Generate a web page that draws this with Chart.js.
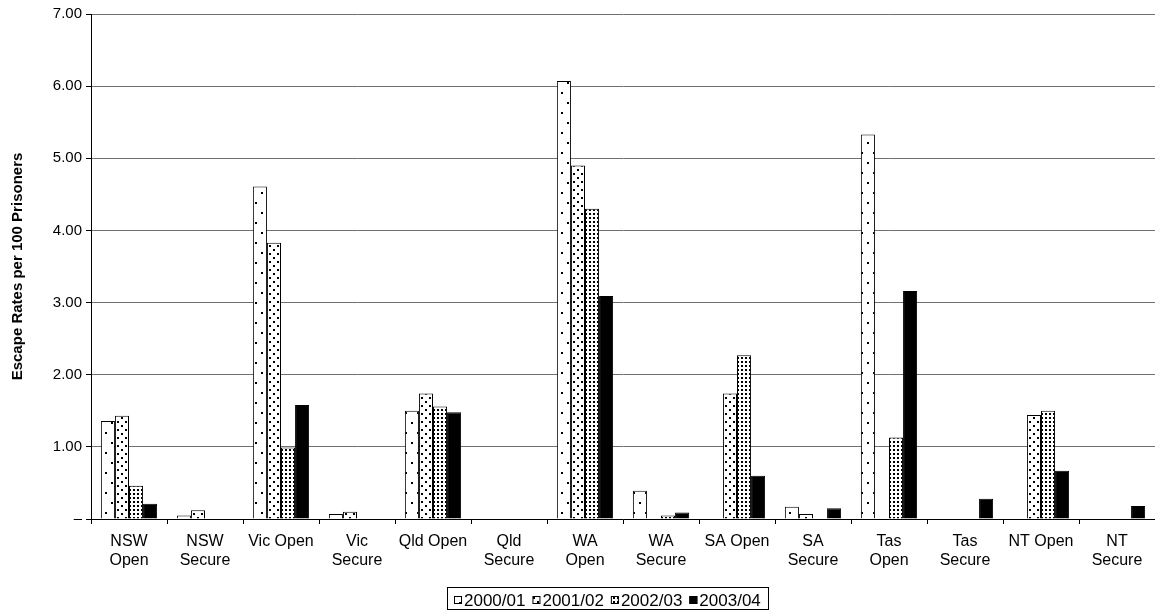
<!DOCTYPE html>
<html>
<head>
<meta charset="utf-8">
<script src="https://cdn.jsdelivr.net/npm/chart.js@4.4.0/dist/chart.umd.min.js"></script>
<style>
html, body { margin: 0; padding: 0; background: #fff; }
</style>
</head>
<body>
<canvas id="myChart" width="1155" height="610"></canvas>
<script>
var categories = [['NSW', 'Open'], ['NSW', 'Secure'], 'Vic Open', ['Vic', 'Secure'], 'Qld Open', ['Qld', 'Secure'],
    ['WA', 'Open'], ['WA', 'Secure'], 'SA Open', ['SA', 'Secure'], ['Tas', 'Open'], ['Tas', 'Secure'], 'NT Open', ['NT', 'Secure']]
var years = ['2000/01', '2001/02', '2002/03', '2003/04']

// escape rates per 100 prisoners, null = no bar
var rates0001 = [1.36, 0.05, 4.61, 0.07, 1.50, null, 6.07, 0.39, null, 0.17, 5.33, null, null, null]
var rates0102 = [1.43, 0.12, 3.83, 0.10, 1.74, null, 4.90, null, 1.74, 0.07, null, null, 1.44, null]
var rates0203 = [0.46, null, 0.99, null, 1.56, null, 4.30, 0.05, 2.27, null, 1.13, null, 1.50, null]
var rates0304 = [0.21, null, 1.58, null, 1.48, null, 3.09, 0.09, 0.60, 0.15, 3.16, 0.28, 0.67, 0.18]

var yMin = 0
var yMax = 7
var yStep = 1

var fontFamily = '"Liberation Sans", Arial, sans-serif'
Chart.defaults.font.family = fontFamily
Chart.defaults.color = '#000'

var ctx = document.getElementById('myChart').getContext('2d')

// dotted fills like the old excel patterns
function dotPattern(w, h, dots, bg, fg) {
    var c = document.createElement('canvas')
    c.width = w
    c.height = h
    var g = c.getContext('2d')
    g.fillStyle = bg
    g.fillRect(0, 0, w, h)
    g.fillStyle = fg
    dots.forEach(function(d){
        g.fillRect(d[0], d[1], 2, 2)
    })
    return ctx.createPattern(c, 'repeat')
}

var fills = [
    dotPattern(12, 20, [[3, 2], [9, 12]], '#fff', '#000'),
    dotPattern(8, 8, [[1, 1], [5, 5]], '#fff', '#000'),
    dotPattern(4, 4, [[1, 1]], '#fff', '#000'),
    '#000'
]

// boxed legend under the axis labels
var boxLegend = {
    id: 'boxLegend',
    afterDraw: function(chart){
        var c = chart.ctx
        c.save()
        c.font = '17px ' + fontFamily
        var box = 8, gap = 2, space = 7
        var widths = years.map(function(t){ return c.measureText(t).width })
        var total = 0
        widths.forEach(function(w, i){ total += box + gap + w + (i > 0 ? space : 0) })
        var x = Math.round(607 - total / 2)
        var cy = 600
        c.strokeStyle = '#000'
        c.lineWidth = 1
        c.strokeRect(x - 7 + 0.5, 587.5, Math.round(total + 14), 22)
        c.textBaseline = 'middle'
        c.textAlign = 'left'
        years.forEach(function(t, i){
            c.fillStyle = fills[i]
            c.fillRect(x, cy - 4, box, box)
            c.strokeRect(x + 0.5, cy - 4 + 0.5, box - 1, box - 1)
            c.fillStyle = '#000'
            c.fillText(t, x + box + gap, cy + 1)
            x += box + gap + widths[i] + space
        })
        c.restore()
    }
}

var series = [rates0001, rates0102, rates0203, rates0304]
var datasets = years.map(function(y, i){
    return {
        label: y,
        data: series[i],
        backgroundColor: fills[i],
        borderColor: '#000',
        borderWidth: 1,
        barPercentage: 1,
        categoryPercentage: 0.74
    }
})

var myChart = new Chart(ctx, {
    type: 'bar',
    data: {
        labels: categories,
        datasets: datasets
    },
    options: {
        responsive: false,
        animation: false,
        layout: { padding: { top: 14, left: 0, right: 0, bottom: 0 } },
        plugins: {
            legend: { display: false },
            tooltip: { enabled: false }
        },
        scales: {
            x: {
                grid: { offset: true, drawOnChartArea: false, tickLength: 5, color: '#000' },
                border: { color: '#000' },
                ticks: { autoSkip: false, maxRotation: 0, padding: 8, font: { size: 16 }, color: '#000' },
                afterFit: function(scale){ scale.height = 91 }
            },
            y: {
                min: yMin,
                max: yMax,
                grid: { color: '#707070', tickLength: 5, tickColor: '#000' },
                border: { color: '#000' },
                ticks: {
                    stepSize: yStep,
                    padding: 4,
                    font: { size: 15 },
                    color: '#000',
                    callback: function(v){ return v === 0 ? '–' : v.toFixed(2) }
                },
                title: {
                    display: true,
                    text: 'Escape Rates per 100 Prisoners',
                    font: { size: 15, weight: 'bold' },
                    padding: { top: 9, bottom: 0 }
                },
                afterFit: function(scale){ scale.width = 91 }
            }
        }
    },
    plugins: [boxLegend]
})
</script>
</body>
</html>
